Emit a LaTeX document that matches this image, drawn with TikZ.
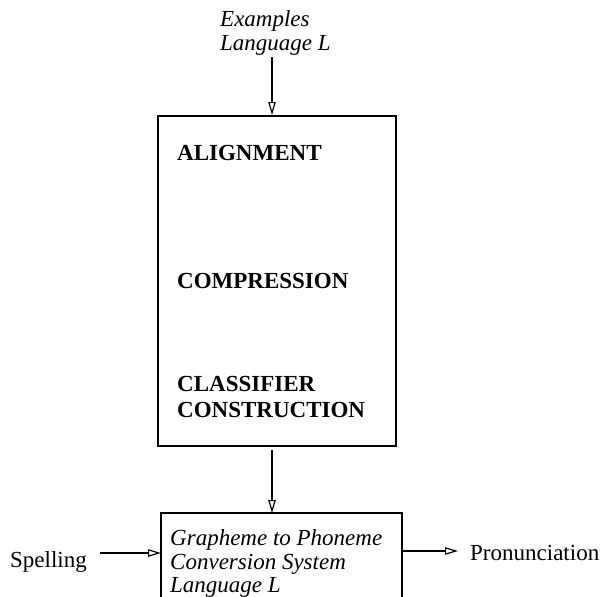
\documentclass[tikz,border=0pt]{standalone}
\usepackage{fontspec}
\setmainfont{Liberation Serif}
\usetikzlibrary{arrows.meta}
\begin{document}
\begin{tikzpicture}[x=1pt,y=-1pt,
  box/.style={draw,line width=1.5pt},
  lbl/.style={inner sep=0pt,anchor=base west,font=\fontsize{23}{25}\selectfont},
  conn/.style={line width=1.3pt,-{Triangle[open,length=13pt,width=7.5pt,line width=1.2pt]}}]
\useasboundingbox (0,0) rectangle (603,597);
% main box
\node[box,minimum width=238pt,minimum height=330pt,inner sep=0pt,anchor=north west] (main) at (157,115) {};
\node[lbl,font=\fontsize{23}{25}\selectfont\bfseries] (align) at (177,160) {ALIGNMENT};
\node[lbl,font=\fontsize{23}{25}\selectfont\bfseries] (comp) at (177,288) {COMPRESSION};
\node[lbl,font=\fontsize{23}{25}\selectfont\bfseries] (class) at (177,391) {CLASSIFIER};
\node[lbl,font=\fontsize{23}{25}\selectfont\bfseries] (constr) at (177,417) {CONSTRUCTION};
% input text
\node[lbl,font=\fontsize{23}{25}\selectfont\itshape] (ex) at (220,27) {Examples};
\node[lbl,font=\fontsize{23}{25}\selectfont\itshape] (lang) at (220,50) {Language L};
\coordinate (topstart) at (272,57);
\coordinate (topend) at (272,115);
% bottom box (cut off at the lower edge)
\draw[line width=1.5pt] (161,600) |- (402,513) -- (402,600);
\coordinate (gtop) at (272,513);
\coordinate (gleft) at (161,553);
\coordinate (gright) at (402,551);
\node[lbl,font=\fontsize{23}{25}\selectfont\itshape] (g1) at (170,545) {Grapheme to Phoneme};
\node[lbl,font=\fontsize{23}{25}\selectfont\itshape] (g2) at (170,569) {Conversion System};
\node[lbl,font=\fontsize{23}{25}\selectfont\itshape] (g3) at (170,592) {Language L};
\node[lbl] (spell) at (10,567) {Spelling};
\node[lbl] (pron) at (470,560) {Pronunciation};
\coordinate (sp) at (100,553);
\coordinate (pr) at (458,551);
\coordinate (midstart) at (272,450);
% connectors
\draw[conn] (topstart) -- (topend);
\draw[conn] (midstart) -- (gtop);
\draw[conn] (sp) -- (gleft);
\draw[conn] (gright) -- (pr);
\end{tikzpicture}
\end{document}
